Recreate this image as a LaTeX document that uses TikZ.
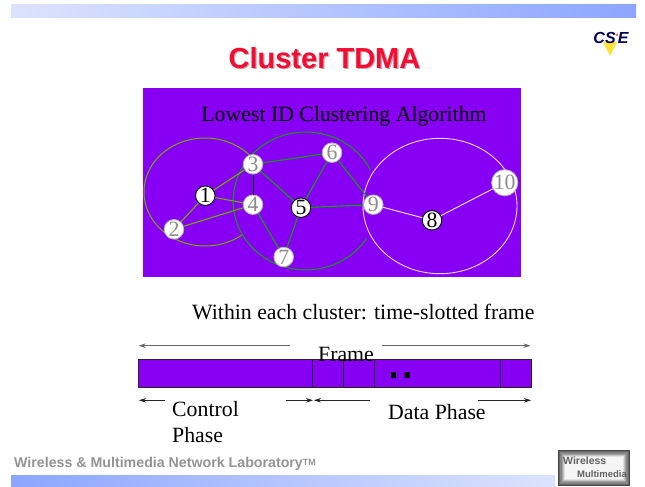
\documentclass[tikz,border=0pt]{standalone}
\usepackage{fontspec}
\setmainfont{Liberation Serif}
\newfontfamily\arialfont{Liberation Sans}
\usetikzlibrary{arrows.meta,shapes.geometric}
\definecolor{vio}{HTML}{8800F4}
\definecolor{olv}{HTML}{70B000}
\definecolor{grn}{HTML}{10A010}
\definecolor{barblue}{HTML}{8CA6FF}
\definecolor{barpale}{HTML}{DCE3FD}
\definecolor{ttl}{HTML}{F80A32}
\tikzset{
 body/.style={inner sep=0pt,font=\fontsize{21.8}{24}\selectfont,anchor=base west},
 member/.style={circle,draw=black!28,fill=white,line width=.9pt,minimum size=19.5pt,inner sep=0pt,text=black!45,font=\fontsize{21.8}{20}\selectfont},
 head/.style={member,draw=black,text=black},
 oedge/.style={olv,line width=1.1pt},
 gedge/.style={grn,line width=1.1pt},
 wedge/.style={white!85!vio,line width=1pt},
 marr/.style={-{Stealth[length=7pt,width=4.5pt]},line width=.7pt,black!85},
 farr/.style={-{Stealth[length=7pt,width=4.5pt]},line width=1.1pt,black!60},
 slot/.style={black!85,line width=.8pt}
}
\begin{document}
\begin{tikzpicture}[x=1pt,y=-1pt]
\useasboundingbox (0,0) rectangle (645,487);
\fill[white] (0,0) rectangle (645,487);
% bars
\shade[left color=barpale,right color=barblue] (11,5) rectangle (636,18);
\shade[left color=barblue,right color=barpale] (11,475) rectangle (555,486);
% title
\node[text=black!30,font=\arialfont\bfseries\fontsize{29}{30}\selectfont,inner sep=0pt,anchor=base] at (325.8,69.8) {Cluster TDMA};
\node (title) [text=ttl,font=\arialfont\bfseries\fontsize{29}{30}\selectfont,inner sep=0pt,anchor=base] at (324.5,68.5) {Cluster TDMA};
% panel
\fill[vio] (143,88) rectangle (521,277);
\node (algo) [body,anchor=base] at (344,121) {Lowest ID Clustering Algorithm};
% clusters
\draw[olv,line width=1pt] plot[domain=42:307,samples=90,smooth] ({205+61*cos(\x)},{192-54*sin(\x)});
\draw[grn,line width=1pt] plot[domain=27:327,samples=90,smooth] ({305.7+72.5*cos(\x)},{201-69*sin(\x)});
\draw[white!85!vio,line width=.9pt] (440,206) ellipse [x radius=77,y radius=67.7];
% graph
\node (n1) [head] at (205.3,195.7) {1};
\node (n2) [member] at (174,229.3) {2};
\node (n3) [member] at (253,164.3) {3};
\node (n4) [member] at (253,204.7) {4};
\node (n5) [head] at (301,207.7) {5};
\node (n6) [member] at (332,152.7) {6};
\node (n7) [member] at (283.7,257) {7};
\node (n8) [head] at (432,220.3) {8};
\node (n9) [member] at (373.3,204.7) {9};
\node (n10) [member] at (504.7,182.7) {10};
\draw[oedge] (n1)--(n3) (n1)--(n2) (n1)--(n4) (n2)--(n4);
\draw[black,line width=1pt] (n3)--(n4);
\draw[gedge] (n3)--(n6) (n3)--(n5) (n6)--(n5) (n5)--(n9) (n5)--(n7) (n4)--(n7) (n6)--(n9);
\draw[wedge] (n9)--(n8) (n8)--(n10);
% sub heading
\node (within) [body] at (192,319) {Within each cluster: time-slotted frame};
% frame bar
\node (bar) [draw=black!85,fill=vio,line width=.8pt,minimum width=392.4pt,minimum height=28.3pt,inner sep=0pt,anchor=north west] at (138.3,359) {};
\foreach \xx in {312.7,343.3,374,500.3} \draw[slot] (\xx,359) -- (\xx,387.3);
\fill[black] (391,372) rectangle (396,378) (404.5,372) rectangle (409.5,378);
\node (frame) [body,anchor=base] at (346,361) {Frame};
% arrows
\coordinate (fa) at (290.3,345.7); \coordinate (fb) at (138.7,345.7);
\coordinate (fc) at (382.3,345.7); \coordinate (fd) at (530.5,345.7);
\draw[farr] (fa)--(fb);
\draw[farr] (fc)--(fd);
\coordinate (ca) at (165,400.3); \coordinate (cb) at (139,400.3);
\coordinate (cc) at (286,400.3); \coordinate (cd) at (313,400.3);
\coordinate (da) at (369.7,400.3); \coordinate (db) at (314,400.3);
\coordinate (dc) at (478,400.3); \coordinate (dd) at (531,400.3);
\draw[marr] (ca)--(cb);
\draw[marr] (cc)--(cd);
\draw[marr] (da)--(db);
\draw[marr] (dc)--(dd);
\node (control) [body,anchor=base west] at (172,416) {Control};
\node (phase) [body,anchor=base west] at (172,442) {Phase};
\node (data) [body,anchor=base west] at (388,419) {Data Phase};
% footer
\node (foot) [text=black!42,font=\arialfont\bfseries\fontsize{14.2}{14}\selectfont,inner sep=0pt,anchor=base west] at (14,467.5) {Wireless \& Multimedia Network Laboratory\raisebox{2.5pt}{\fontsize{9}{9}\selectfont TM}};
% CSIE logo
\fill[yellow!80!orange,opacity=.8] (603,42) -- (617,42) -- (610,56) -- cycle;
\node (csie) [text=blue!35!black,font=\arialfont\bfseries\itshape\fontsize{16}{16}\selectfont,inner sep=0pt,anchor=base] at (611,44) {CS\raisebox{3pt}{\fontsize{9}{9}\selectfont\textcolor{red!70!black}{'}}E};
% lab logo
\foreach \i/\s in {0/72,1/60,2/48,3/36,4/24,5/12,6/4} {
  \fill[black!\s!white] (558+\i*1.2,450+\i*1.2) rectangle (630-\i*1.2,486-\i*1.2);
}
\node (logoa) [text=black!62,font=\arialfont\bfseries\fontsize{10.5}{10}\selectfont,inner sep=0pt,anchor=base west] at (563,464) {Wireless};
\node (logob) [text=black!62,font=\arialfont\bfseries\fontsize{9.5}{10}\selectfont,inner sep=0pt,anchor=base east] at (627,477) {Multimedia};
\end{tikzpicture}
\end{document}
